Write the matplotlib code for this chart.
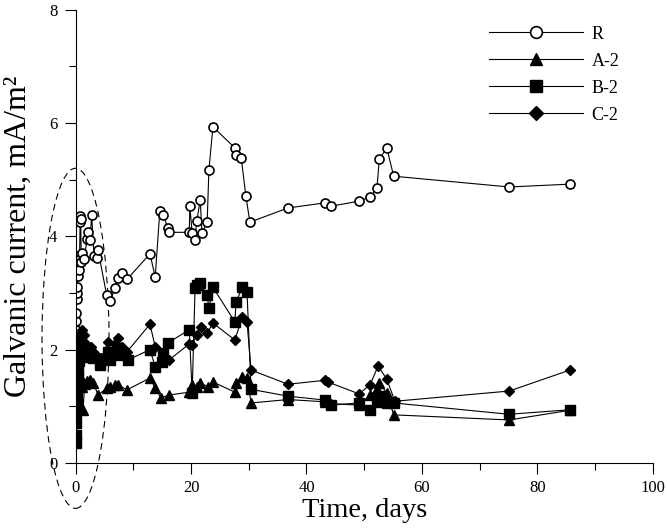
import matplotlib
matplotlib.use("Agg")
import matplotlib.pyplot as plt
from matplotlib.patches import Ellipse
from matplotlib.ticker import MultipleLocator

plt.rcParams['font.family'] = ['Liberation Serif', 'DejaVu Serif']

# ---- data ----
x_R = [0.0, 0.05, 0.1, 0.12, 0.15, 0.2, 0.25, 0.3, 0.35, 0.4, 0.5, 0.6, 0.7, 0.8, 0.85, 0.9, 1.0, 1.2, 1.5,
       2.0, 2.2, 2.5, 2.8, 3.2, 3.7, 3.9, 5.4, 6.0, 6.8, 7.4, 8.0, 8.9, 12.9, 13.8, 14.6, 15.2, 16.0, 16.2,
       19.7, 19.8, 20.2, 20.7, 21.0, 21.6, 21.9, 22.8, 23.1, 23.8, 27.6, 27.8, 28.7, 29.5, 30.2, 36.8,
       43.2, 44.2, 49.1, 51.0, 52.2, 52.6, 53.9, 55.1, 75.1, 85.6]
y_R = [1.8, 2.0, 2.35, 2.5, 2.65, 2.9, 3.0, 3.1, 3.3, 3.5, 3.65, 3.4, 3.6, 4.25, 4.35, 4.3, 3.55, 3.7, 3.6,
       3.95, 4.07, 3.93, 4.37, 3.65, 3.62, 3.76, 2.96, 2.85, 3.08, 3.26, 3.35, 3.24, 3.69, 3.28, 4.45, 4.38, 4.14, 4.07,
       4.07, 4.53, 4.06, 3.93, 4.27, 4.64, 4.06, 4.25, 5.17, 5.93, 5.56, 5.43, 5.38, 4.71, 4.25, 4.50,
       4.59, 4.53, 4.62, 4.69, 4.85, 5.36, 5.56, 5.06, 4.87, 4.92]

x_A = [0.0, 0.05, 0.1, 0.15, 0.2, 0.3, 0.4, 0.5, 0.7, 0.9, 1.1, 1.3, 1.6, 2.0, 2.5, 3.1, 3.9, 5.4, 6.0, 6.8, 7.4, 8.9,
       12.9, 13.8, 14.8, 16.2, 19.7, 20.2, 21.0, 21.6, 22.9, 23.8, 27.6, 27.8, 28.8, 29.7, 30.4, 36.8,
       43.2, 44.2, 49.1, 51.0, 52.2, 52.6, 53.9, 55.1, 75.1, 85.6]
y_A = [0.9, 1.1, 1.25, 1.35, 1.45, 1.5, 1.4, 1.55, 1.45, 1.5, 1.35, 0.93, 1.4, 1.45, 1.47, 1.41, 1.2, 1.32, 1.34, 1.38, 1.38, 1.29,
       1.5, 1.32, 1.15, 1.2, 1.25, 1.38, 1.35, 1.41, 1.35, 1.43, 1.25, 1.41, 1.52, 1.5, 1.06, 1.12,
       1.08, 1.05, 1.02, 1.2, 1.3, 1.41, 1.24, 0.85, 0.76, 0.93]

x_B = [0.0, 0.05, 0.1, 0.15, 0.2, 0.25, 0.3, 0.4, 0.5, 0.6, 0.8, 1.0, 1.2, 1.5, 2.0, 2.5, 3.1, 4.2, 5.6, 6.0, 7.4, 7.7, 9.1,
       12.9, 13.8, 15.0, 15.2, 16.0, 19.7, 20.2, 20.7, 21.0, 21.6, 22.8, 23.1, 23.8, 27.6, 27.8, 28.9, 29.7, 30.4,
       36.8, 43.2, 44.2, 49.1, 51.0, 52.2, 52.6, 53.9, 55.1, 75.1, 85.6]
y_B = [0.35, 0.5, 0.7, 0.9, 1.05, 1.2, 1.35, 1.5, 1.65, 1.8, 2.2, 2.1, 2.0, 1.9, 1.87, 1.95, 1.85, 1.73, 1.96, 1.82, 2.0, 1.9, 1.82,
       2.0, 1.7, 1.78, 1.94, 2.12, 2.35, 1.23, 3.08, 3.14, 3.18, 2.96, 2.73, 3.1, 2.49, 2.84, 3.1, 3.02, 1.3,
       1.18, 1.11, 1.02, 1.06, 0.93, 1.08, 1.18, 1.06, 1.06, 0.86, 0.94]

x_C = [0.0, 0.1, 0.2, 0.3, 0.5, 0.7, 0.9, 1.1, 1.4, 1.8, 2.2, 2.6, 3.0, 3.5, 4.0, 4.5, 5.6, 6.8, 7.4, 8.0, 8.9,
       12.9, 13.8, 15.2, 16.2, 19.7, 20.2, 21.0, 21.7, 22.8, 23.8, 27.6, 28.9, 29.7, 30.4, 36.8,
       43.2, 43.7, 49.1, 51.0, 52.4, 53.9, 55.3, 75.1, 85.6]
y_C = [1.5, 1.7, 1.9, 2.0, 2.1, 2.2, 2.3, 2.35, 2.25, 2.1, 2.0, 2.05, 1.95, 1.9, 1.8, 1.85, 2.13, 2.1, 2.2, 2.05, 1.96,
       2.45, 2.05, 1.87, 1.82, 2.1, 2.08, 2.26, 2.4, 2.29, 2.47, 2.17, 2.58, 2.49, 1.64, 1.39,
       1.46, 1.43, 1.22, 1.38, 1.71, 1.48, 1.09, 1.27, 1.64]

labels = ['R', 'A-2', 'B-2', 'C-2']
x_ticks = [0, 20, 40, 60, 80, 100]
y_ticks = [0, 2, 4, 6, 8]

fig = plt.figure(figsize=(6.67, 5.31), dpi=100)
ax = fig.add_axes([0.1132, 0.128, 0.979 - 0.1132, 0.982 - 0.128])

lw = 0.8
ax.plot(x_R, y_R, '-', color='black', lw=lw, marker='o', ms=6.5, mfc='white', mec='black', mew=1.2, label=labels[0])
ax.plot(x_A, y_A, '-', color='black', lw=lw, marker='^', ms=7, mfc='black', mec='black', label=labels[1])
ax.plot(x_B, y_B, '-', color='black', lw=lw, marker='s', ms=7, mfc='black', mec='black', label=labels[2])
ax.plot(x_C, y_C, '-', color='black', lw=lw, marker='D', ms=5.5, mfc='black', mec='black', label=labels[3])

ell = Ellipse((0, 2.2), 11.6, 6.0, fill=False, ls=(0, (6, 4)), lw=0.8, color='black', clip_on=False)
ax.add_patch(ell)

ax.set_xlim(0, 100)
ax.set_ylim(0, 8)
ax.set_xticks(x_ticks)
ax.set_yticks(y_ticks)
ax.xaxis.set_minor_locator(MultipleLocator(10))
ax.yaxis.set_minor_locator(MultipleLocator(1))
ax.tick_params(which='major', direction='out', length=8, width=0.8, labelsize=12)
ax.tick_params(axis='y', which='major', pad=5)
ax.tick_params(axis='x', which='major', pad=4)
ax.tick_params(which='minor', direction='out', length=5, width=0.8)
ax.spines['top'].set_visible(False)
ax.spines['right'].set_visible(False)
for s in ['left', 'bottom']:
    ax.spines[s].set_linewidth(0.8)

ax.set_xlabel('Time, days', fontsize=20.5, labelpad=2)
ax.set_ylabel('Galvanic current, mA/m\u00b2', fontsize=23, labelpad=12)

ax.legend(loc='upper right', bbox_to_anchor=(0.97, 1.0), frameon=False, fontsize=13,
          handlelength=5.2, markerscale=1.3, labelspacing=0.55, handletextpad=0.5)

fig.savefig('out.png', dpi=100)
